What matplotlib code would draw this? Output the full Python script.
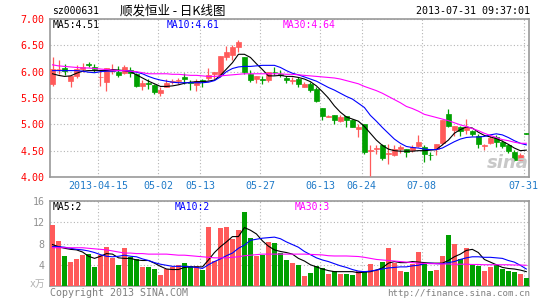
import numpy as np
import pandas as pd
import matplotlib
matplotlib.use("Agg")
import matplotlib.pyplot as plt

# ---- data (one entry per trading day, 2013-04-01 .. 2013-07-31)
holidays = ["2013-04-04", "2013-04-05", "2013-04-29", "2013-04-30", "2013-05-01",
            "2013-06-10", "2013-06-11", "2013-06-12"]
days = pd.bdate_range("2013-04-01", "2013-07-31")
days = days[~days.isin(pd.to_datetime(holidays))]

opens = [5.76, 6.05, 6.07, 5.83, 5.92, 6.05, 6.14, 6.08, 5.89, 5.80,
         6.02, 6.00, 5.98, 6.03, 5.96, 5.73, 5.79, 5.74, 5.60, 5.71,
         5.80, 5.83, 5.89, 5.81, 5.74, 5.84, 5.88, 5.95, 5.93, 6.28,
         6.31, 6.47, 6.27, 5.96, 5.86, 5.87, 5.85, 6.00, 5.96, 5.88,
         5.83, 5.87, 5.71, 5.76, 5.68, 5.31, 5.14, 5.17, 5.06, 5.15,
         5.08, 4.91, 5.00, 4.49, 4.54, 4.60, 4.43, 4.41, 4.54, 4.54,
         4.52, 4.59, 4.57, 4.42, 4.53, 4.65, 5.20, 4.90, 4.94, 4.90,
         4.87, 4.77, 4.59, 4.65, 4.76, 4.67, 4.60, 4.48, 4.32, 4.83]
highs = [6.28, 6.22, 6.14, 5.91, 6.12, 6.16, 6.18, 6.14, 6.04, 6.07,
         6.14, 6.10, 6.12, 6.08, 5.98, 5.84, 5.86, 5.77, 5.70, 5.87,
         5.86, 5.88, 5.98, 5.84, 5.87, 5.87, 6.07, 6.00, 6.29, 6.48,
         6.50, 6.61, 6.27, 6.04, 5.92, 5.91, 6.00, 6.09, 6.03, 5.91,
         5.90, 5.90, 5.81, 5.81, 5.71, 5.31, 5.17, 5.17, 5.17, 5.15,
         5.11, 5.00, 5.00, 4.60, 4.60, 4.63, 4.63, 4.60, 4.60, 4.54,
         4.60, 4.79, 4.60, 4.48, 4.62, 5.09, 5.29, 4.96, 4.96, 5.11,
         4.90, 4.81, 4.63, 4.77, 4.79, 4.70, 4.63, 4.51, 4.46, 4.83]
lows = [5.72, 5.96, 5.93, 5.71, 5.88, 6.00, 6.09, 6.00, 5.72, 5.63,
        5.95, 5.89, 5.95, 5.90, 5.71, 5.65, 5.68, 5.57, 5.53, 5.70,
        5.77, 5.77, 5.77, 5.66, 5.63, 5.71, 5.84, 5.87, 5.90, 6.23,
        6.23, 6.38, 5.95, 5.81, 5.79, 5.76, 5.81, 5.93, 5.90, 5.79,
        5.77, 5.71, 5.70, 5.62, 5.43, 5.09, 5.13, 5.00, 5.05, 4.95,
        4.94, 4.76, 4.44, 4.02, 4.44, 4.32, 4.25, 4.39, 4.46, 4.38,
        4.48, 4.57, 4.29, 4.32, 4.42, 4.60, 4.94, 4.77, 4.77, 4.81,
        4.77, 4.56, 4.51, 4.63, 4.57, 4.56, 4.46, 4.30, 4.30, 4.82]
closes = [6.06, 6.06, 6.02, 5.91, 6.06, 6.08, 6.12, 6.05, 5.90, 6.07,
          6.03, 5.93, 6.09, 5.98, 5.73, 5.79, 5.76, 5.62, 5.65, 5.79,
          5.83, 5.85, 5.87, 5.79, 5.82, 5.82, 5.93, 6.00, 6.29, 6.38,
          6.46, 6.56, 6.00, 5.84, 5.92, 5.84, 6.00, 5.99, 5.93, 5.85,
          5.85, 5.76, 5.77, 5.66, 5.44, 5.16, 5.16, 5.08, 5.14, 5.09,
          4.95, 4.95, 4.48, 4.51, 4.55, 4.36, 4.46, 4.54, 4.57, 4.48,
          4.57, 4.67, 4.43, 4.41, 4.62, 5.09, 4.96, 4.96, 4.87, 4.95,
          4.81, 4.63, 4.61, 4.75, 4.67, 4.58, 4.49, 4.32, 4.41, 4.82]

ma5 = [5.96, 5.93, 5.91, 5.92, 5.97, 6.01, 6.02, 6.02, 6.02, 6.02,
       6.04, 6.03, 6.02, 6.00, 5.94, 5.88, 5.82, 5.77, 5.72, 5.72,
       5.73, 5.75, 5.78, 5.80, 5.81, 5.81, 5.82, 5.84, 5.93, 6.05,
       6.17, 6.33, 6.33, 6.27, 6.15, 6.04, 5.92, 5.92, 5.93, 5.91,
       5.91, 5.89, 5.86, 5.81, 5.73, 5.62, 5.50, 5.35, 5.23, 5.14,
       5.10, 5.06, 4.96, 4.83, 4.70, 4.60, 4.53, 4.50, 4.49, 4.49,
       4.49, 4.50, 4.50, 4.51, 4.52, 4.61, 4.70, 4.83, 4.90, 4.95,
       4.93, 4.85, 4.79, 4.76, 4.73, 4.68, 4.62, 4.55, 4.50, 4.51]
ma10 = [6.02, 6.02, 6.02, 6.02, 6.02, 6.01, 5.99, 5.98, 6.00, 6.01,
        6.01, 6.02, 6.02, 6.01, 5.99, 5.96, 5.91, 5.87, 5.84, 5.82,
        5.80, 5.79, 5.79, 5.79, 5.79, 5.79, 5.80, 5.83, 5.90, 6.00,
        6.06, 6.09, 6.10, 6.10, 6.11, 6.12, 6.12, 6.12, 6.08, 6.02,
        5.97, 5.94, 5.90, 5.86, 5.82, 5.76, 5.70, 5.65, 5.59, 5.53,
        5.48, 5.40, 5.32, 5.17, 5.06, 4.94, 4.83, 4.72, 4.64, 4.58,
        4.56, 4.55, 4.53, 4.52, 4.52, 4.55, 4.61, 4.67, 4.72, 4.75,
        4.76, 4.76, 4.77, 4.80, 4.82, 4.80, 4.75, 4.69, 4.64, 4.61]
ma30 = [6.13, 6.11, 6.10, 6.09, 6.08, 6.07, 6.07, 6.06, 6.05, 6.04,
        6.03, 6.02, 6.02, 6.01, 6.00, 5.98, 5.96, 5.96, 5.96, 5.96,
        5.95, 5.95, 5.94, 5.93, 5.93, 5.92, 5.91, 5.91, 5.92, 5.93,
        5.94, 5.95, 5.96, 5.96, 5.96, 5.96, 5.96, 5.96, 5.96, 5.95,
        5.95, 5.94, 5.93, 5.92, 5.91, 5.90, 5.89, 5.88, 5.86, 5.83,
        5.80, 5.77, 5.72, 5.68, 5.64, 5.59, 5.53, 5.47, 5.41, 5.34,
        5.30, 5.25, 5.19, 5.16, 5.13, 5.10, 5.07, 5.03, 4.99, 4.96,
        4.92, 4.88, 4.83, 4.79, 4.75, 4.71, 4.69, 4.66, 4.64, 4.64]

# volume in 10k hands
volumes = [11.4, 8.4, 5.65, 4.6, 5.0, 5.8, 6.0, 3.6, 5.8, 7.4,
           5.2, 3.9, 7.2, 5.5, 5.1, 3.6, 3.6, 3.2, 2.0, 3.2,
           3.5, 3.9, 4.4, 3.7, 3.7, 3.0, 11.2, 4.7, 10.9, 11.2,
           8.9, 10.6, 13.9, 9.1, 5.7, 5.8, 8.2, 8.1, 6.2, 4.9,
           4.4, 3.9, 1.8, 2.5, 3.7, 3.3, 2.2, 2.8, 2.2, 2.2,
           2.0, 2.8, 2.8, 4.1, 3.1, 4.5, 7.2, 4.4, 2.8, 2.6,
           4.1, 6.4, 4.3, 2.8, 3.0, 5.65, 9.65, 8.0, 5.0, 7.2,
           3.9, 3.7, 2.8, 3.6, 3.9, 3.2, 2.8, 2.7, 2.2, 1.6]
vma5 = [7.8, 7.4, 7.1, 6.9, 6.8, 6.4, 5.6, 5.2, 5.6, 6.1,
        6.0, 5.3, 5.2, 5.2, 4.9, 4.8, 4.8, 4.3, 3.7, 3.2,
        3.1, 3.1, 3.5, 3.6, 3.6, 3.6, 4.9, 6.3, 7.4, 8.3,
        9.3, 9.3, 11.0, 10.5, 9.8, 8.5, 7.5, 6.8, 6.5, 6.3,
        6.0, 5.2, 4.7, 4.0, 3.6, 3.2, 2.9, 2.7, 2.7, 2.7,
        2.7, 2.5, 2.6, 2.7, 3.0, 3.4, 4.3, 4.6, 4.4, 4.4,
        4.6, 4.5, 4.4, 4.3, 4.3, 4.3, 4.8, 5.5, 6.0, 6.7,
        6.9, 6.3, 5.0, 4.5, 4.0, 3.5, 3.3, 3.2, 3.0, 2.7]
vma10 = [7.4, 7.4, 7.3, 7.1, 6.9, 6.8, 6.6, 6.3, 5.9, 5.6,
         5.5, 5.6, 5.8, 5.6, 5.5, 5.1, 4.8, 4.4, 4.1, 3.9,
         3.7, 3.7, 3.7, 3.6, 3.5, 3.3, 4.0, 4.6, 5.1, 5.7,
         6.2, 7.1, 7.7, 8.6, 8.8, 9.0, 9.1, 9.2, 8.9, 8.3,
         7.8, 7.3, 6.5, 5.9, 5.3, 4.9, 4.6, 4.2, 3.8, 3.5,
         3.1, 2.8, 2.7, 2.8, 3.0, 3.2, 3.4, 3.5, 3.6, 3.6,
         3.8, 3.9, 4.2, 4.3, 4.2, 4.2, 4.4, 4.6, 5.0, 5.3,
         5.5, 5.5, 5.4, 5.4, 5.3, 5.2, 4.8, 4.5, 3.9, 3.2]
vma30 = [7.2, 7.2, 7.2, 7.2, 7.2, 7.2, 7.1, 7.0, 6.9, 6.8,
         6.6, 6.4, 6.2, 6.2, 6.1, 6.1, 6.0, 6.0, 6.0, 6.0,
         5.9, 5.8, 5.8, 5.7, 5.6, 5.5, 5.4, 5.3, 5.3, 5.3,
         5.4, 5.5, 5.7, 5.8, 5.9, 6.0, 6.0, 6.0, 6.0, 6.0,
         6.0, 6.0, 6.0, 5.95, 5.9, 5.85, 5.7, 5.65, 5.65, 5.65,
         5.6, 5.55, 5.4, 5.2, 5.0, 4.9, 4.8, 4.7, 4.6, 4.5,
         4.4, 4.3, 4.25, 4.2, 4.2, 4.15, 4.15, 4.1, 4.1, 4.1,
         4.05, 4.05, 4.0, 4.0, 4.0, 4.0, 4.0, 3.95, 3.95, 3.9]

label_days = ["2013-04-15", "2013-05-02", "2013-05-13", "2013-05-27",
              "2013-06-13", "2013-06-24", "2013-07-08", "2013-07-31"]
label_text = ["2013-04-15", "05-02", "05-13", "05-27", "06-13", "06-24", "07-08", "07-31"]
price_ticks = [4.0, 4.5, 5.0, 5.5, 6.0, 6.5, 7.0]
vol_ticks = [4, 8, 12, 16]

title_code = "sz000631"
title_name = "顺发恒业 - 日K线图"
stamp = "2013-07-31 09:37:01"

# ---- styling
RED = "#ff5a5a"
GREEN = "#00a000"
FRAME = "#999999"
GRID = "#b4b4b4"
MONO = "DejaVu Sans Mono"
W, H = 545, 300

fig = plt.figure(figsize=(W / 100, H / 100), dpi=100)
fig.patch.set_facecolor("white")


def px_axes(left, top, right, bottom):
    return fig.add_axes([left / W, 1 - bottom / H, (right - left) / W, (bottom - top) / H])


ax = px_axes(50, 19, 529, 177)
axv = px_axes(50, 201, 529, 286)

x = np.arange(len(days))
o, h, l, c = map(np.array, (opens, highs, lows, closes))
up = c >= o
cols = np.where(up, RED, GREEN)
tick_pos = [days.get_loc(pd.Timestamp(d)) - 0.42 for d in label_days]

for a in (ax, axv):
    a.set_xlim(-0.42, 79.45)
    for s in a.spines.values():
        s.set_color(FRAME)
        s.set_linewidth(1.2)
    a.set_xticks(tick_pos)
    a.grid(True, linestyle=(0, (1, 2)), color=GRID, linewidth=0.8)
    a.set_axisbelow(True)
    a.tick_params(length=0)

# price panel
ax.vlines(x, l, h, colors=cols, linewidth=0.9, zorder=3)
ax.bar(x, np.maximum(np.abs(c - o), 0.004), bottom=np.minimum(o, c), width=0.8,
       color=cols, edgecolor=cols, linewidth=0.5, zorder=3)
ax.plot(x, ma5, color="black", lw=0.8, zorder=4)
ax.plot(x, ma10, color="#0000ff", lw=0.8, zorder=4)
ax.plot(x, ma30, color="#ff00ff", lw=0.8, zorder=4)
ax.set_ylim(4.0, 7.0)
ax.set_yticks(price_ticks)
ax.set_yticklabels(["%.2f" % v for v in price_ticks], color="#ff0000",
                   family=MONO, fontsize=7.2)
ax.set_xticklabels(label_text, color="#1f7ac8", family=MONO, fontsize=7.2)
ax.tick_params(axis="y", pad=4)
ax.tick_params(axis="x", pad=3)

t_kw = dict(fontsize=7, family=MONO, va="center")
fig.text(53 / W, 1 - 25 / H, "MA5:%.2f" % ma5[-1], color="black", **t_kw)
fig.text(167 / W, 1 - 25 / H, "MA10:%.2f" % ma10[-1], color="#0000ff", **t_kw)
fig.text(283 / W, 1 - 25 / H, "MA30:%.2f" % ma30[-1], color="#ff00ff", **t_kw)
fig.text(508 / W, 1 - 163 / H, "sina", color="#c8c8c8", fontsize=13,
         style="italic", weight="bold", ha="center", va="center")

# volume panel
axv.bar(x, volumes, width=0.8, color=cols, zorder=3)
axv.plot(x, vma5, color="black", lw=0.8, zorder=4)
axv.plot(x, vma10, color="#0000ff", lw=0.8, zorder=4)
axv.plot(x, vma30, color="#ff00ff", lw=0.8, zorder=4)
axv.set_ylim(0, 16)
axv.set_yticks(vol_ticks)
axv.set_yticklabels([str(v) for v in vol_ticks], color="#909090", family=MONO, fontsize=7.2)
axv.tick_params(axis="y", pad=4)
axv.set_xticklabels([])
fig.text(53 / W, 1 - 207 / H, "MA5:%d" % int(vma5[-1]), color="black", **t_kw)
fig.text(175 / W, 1 - 207 / H, "MA10:%d" % 2, color="#0000ff", **t_kw)
fig.text(295 / W, 1 - 207 / H, "MA30:%d" % int(vma30[-1]), color="#ff00ff", **t_kw)
fig.text(45 / W, 1 - 284 / H, "x万", color="#b0b0b0", fontsize=7, ha="right", va="center",
         family=[MONO, "Noto Sans CJK SC"])

# header and footer
fig.text(52 / W, 1 - 11 / H, title_code, color="black", family=MONO, fontsize=7, va="center")
fig.text(120 / W, 1 - 11 / H, title_name, color="black", fontsize=9, va="center",
         family=["Noto Sans CJK SC", "DejaVu Sans"])
fig.text(530 / W, 1 - 11 / H, stamp, color="black", family=MONO, fontsize=7.2,
         ha="right", va="center")
fig.text(50 / W, 1 - 293 / H, "Copyright 2013 SINA.COM", color="#808080", family=MONO,
         fontsize=7.2, va="center")
fig.text(530 / W, 1 - 293 / H, "http://finance.sina.com.cn", color="#808080", family=MONO,
         fontsize=6.6, ha="right", va="center")

fig.savefig("out.png", dpi=100, facecolor="white")
